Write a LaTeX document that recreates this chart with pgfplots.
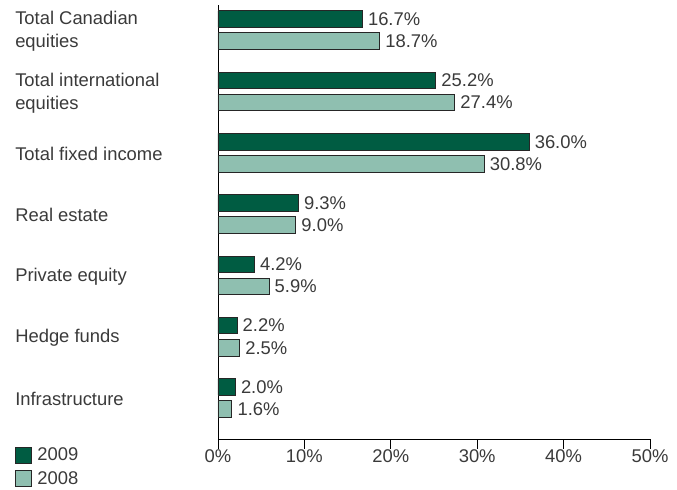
\documentclass[border=0pt]{standalone}
\usepackage{pgfplots}
\pgfplotsset{compat=1.18}
\usepackage{fontspec}
\setmainfont{Liberation Sans}
\definecolor{dark}{HTML}{005C42}
\definecolor{light}{HTML}{8FBFB0}
\definecolor{txt}{HTML}{3A3A3A}
\newcommand{\lblfont}{\fontsize{13.8}{17.25}\selectfont}
\begin{document}
\begin{tikzpicture}[x=1pt,y=1pt]
\useasboundingbox (-163.5,-37.5) rectangle (344.25,329.25);
\begin{axis}[
  at={(0,0)}, anchor=south west,
  width=324pt, height=325.5pt, scale only axis,
  xbar,
  xmin=0, xmax=50, ymin=-0.67, ymax=6.41,
  axis x line*=bottom, axis y line*=left,
  axis line style={black, line width=0.7pt},
  xtick={0,10,20,30,40,50},
  xticklabel={\pgfmathprintnumber{\tick}\%},
  tick align=outside,
  major tick length=7.5pt,
  xtick style={black, line width=0.7pt},
  ytick={0,1,2,3,4,5,6},
  ytick style={draw=none},
  yticklabels={Infrastructure, Hedge funds, Private equity, Real estate, Total fixed income, {Total international\\equities}, {Total Canadian\\equities}},
  yticklabel style={anchor=west, xshift=-144.75pt, yshift=-1pt, align=left, inner xsep=0pt, font=\lblfont, text=txt},
  xticklabel style={font=\lblfont, text=txt, yshift=3pt},
  /pgf/number format/assume math mode=true,
  bar width=0.27,
  point meta=x,
  nodes near coords={\pgfmathprintnumber[fixed,fixed zerofill,precision=1]{\pgfplotspointmeta}\%},
  nodes near coords style={font=\lblfont, text=txt, inner xsep=4pt, anchor=west},
  legend image code/.code={\draw[#1] (0pt,-6pt) rectangle (12pt,6pt); \path (14pt,0pt);},
  legend style={at={(0,0)}, anchor=north west, xshift=-152.25pt, yshift=-4.5pt, draw=none, fill=none, inner sep=0pt, font=\lblfont, text=txt, cells={anchor=west}, row sep=2.5pt},
]
\addplot[draw=black!85, line width=0.6pt, fill=dark, bar shift=0.18] coordinates {
  (2.0,0) (2.2,1) (4.2,2) (9.3,3) (36.0,4) (25.2,5) (16.7,6)};
\addplot[draw=black!85, line width=0.6pt, fill=light, bar shift=-0.18] coordinates {
  (1.6,0) (2.5,1) (5.9,2) (9.0,3) (30.8,4) (27.4,5) (18.7,6)};
\legend{2009,2008}
\end{axis}
\end{tikzpicture}
\end{document}
